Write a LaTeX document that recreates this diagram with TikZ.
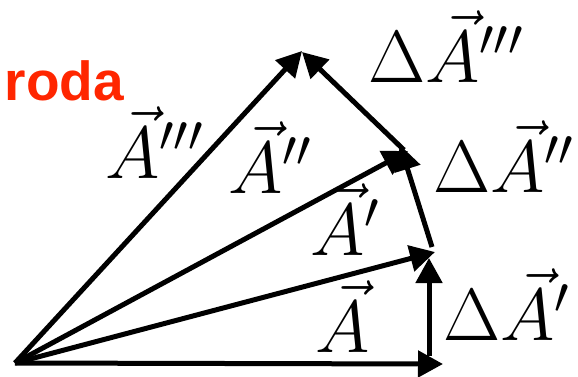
\RequirePackage{fix-cm}
\documentclass[tikz,border=0pt]{standalone}
\usepackage{amsmath}
\usepackage{fontspec}
\usepackage{tikz}
\usetikzlibrary{arrows.meta}
\newfontfamily\rodafont{Liberation Sans}
\definecolor{rodared}{RGB}{255, 38, 0}
\newcommand{\vA}{\vec{A}}

\begin{document}
\begin{tikzpicture}[x=1pt, y=-1pt, >={Triangle[length=25pt, width=26pt]},
  vec/.style={line width=5pt, ->},
  lbl/.style={inner sep=0pt, anchor=base west, font={\fontsize{74}{80}\selectfont}}]

  \useasboundingbox (0,0) rectangle (578,376);

  % tips of the vectors
  \coordinate (O) at (15,363);
  \coordinate (A0) at (443,364);
  \coordinate (A1) at (435,252);
  \coordinate (A2) at (408,151);
  \coordinate (A3) at (302,51);

  % ends of the differences
  \coordinate (d1s) at (429,356);
  \coordinate (d1e) at (429,258);
  \coordinate (d2s) at (432,247);
  \coordinate (d2e) at (400,145);
  \coordinate (d3s) at (404,150);
  \coordinate (d3e) at (302,52);

  % the vectors
  \draw[vec] (O) -- (A0);
  \draw[vec] (O) -- (A1);
  \draw[vec] (O) -- (A2);
  \draw[vec] (O) -- (A3);

  % the differences
  \draw[vec] (d1s) -- (d1e);
  \draw[vec] (d2s) -- (d2e);
  \draw[vec] (d3s) -- (d3e);

  % labels
  \node[lbl] (lA0) at (315,352) {$\vA$};
  \node[lbl] (lA1) at (310,255) {$\vA'$};
  \node[lbl] (lA2) at (228,193) {$\vA''$};
  \node[lbl] (lA3) at (105,178) {$\vA'''$};
  \node[lbl] (lD1) at (443,340) {$\Delta\vA'$};
  \node[lbl] (lD2) at (433,192) {$\Delta\vA''$};
  \node[lbl] (lD3) at (368,82) {$\Delta\vA'''$};

  \node[rodared, inner sep=0pt, anchor=base east, font={\rodafont\bfseries\fontsize{55}{60}\selectfont}] (roda) at (124,100) {roda};

\end{tikzpicture}
\end{document}
